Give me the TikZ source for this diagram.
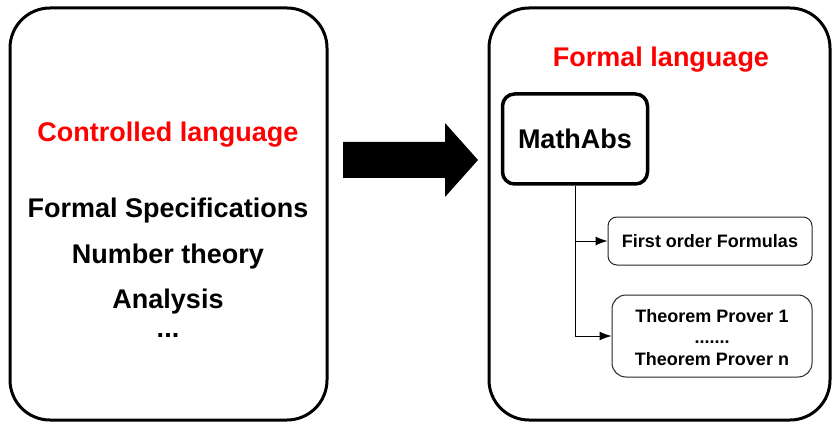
\documentclass[tikz,border=0pt]{standalone}
\usepackage{fontspec}
\setmainfont{Liberation Sans}
\usetikzlibrary{arrows.meta,positioning}

\begin{document}
\begin{tikzpicture}[x=1pt,y=-1pt,
    bigbox/.style={draw,line width=3pt,rounded corners=40pt,inner sep=0pt},
    bigtext/.style={font=\bfseries\fontsize{27}{32}\selectfont,anchor=base},
    title/.style={bigtext,text=red},
    smallbox/.style={draw=black!85,line width=1pt,inner sep=0pt,font=\bfseries\fontsize{18}{21}\selectfont},
    smalltext/.style={font=\bfseries\fontsize{18}{21}\selectfont,anchor=base},
    link/.style={line width=1pt,-{Latex[length=12pt,width=9pt]}}]
    \useasboundingbox (0,0) rectangle (833,425);
    % left: controlled language
    \node[bigbox,minimum width=317pt,minimum height=412pt] (ctrl) at (168.5,214) {};
    \node[title] (ctrltitle) at (168,142) {Controlled language};
    \node[bigtext] (spec) at (168,218) {Formal Specifications};
    \node[bigtext] (numth) at (168,263) {Number theory};
    \node[bigtext] (anal) at (168,308) {Analysis};
    \node[bigtext] (dots) at (168,337) {...};
    % the big arrow
    \fill[black] (343,142) -- (445,142) -- (445,123) -- (478,160) -- (445,197) -- (445,178) -- (343,178) -- cycle;
    % right: formal language
    \node[bigbox,minimum width=341pt,minimum height=412pt] (frml) at (659.5,214) {};
    \node[title] (frmltitle) at (661,67) {Formal language};
    \node[draw,line width=3.5pt,rounded corners=12pt,minimum width=145pt,minimum height=90pt,
          font=\bfseries\fontsize{27}{32}\selectfont] (mabs) at (575,139) {MathAbs};
    \node[smallbox,rounded corners=9pt,minimum width=204pt,minimum height=48pt] (fof) at (710,241) {First order Formulas};
    \node[smallbox,rounded corners=14pt,minimum width=200pt,minimum height=82pt] (prov) at (712,336) {};
    \node[smalltext] (prov1) at (712,322) {Theorem Prover 1};
    \node[smalltext] (provdots) at (712,343) {.......};
    \node[smalltext] (provn) at (712,365) {Theorem Prover n};
    \draw[link] (mabs.south) |- (fof.west);
    \draw[link] (mabs.south) |- (prov.west);
  \end{tikzpicture}
\end{document}
